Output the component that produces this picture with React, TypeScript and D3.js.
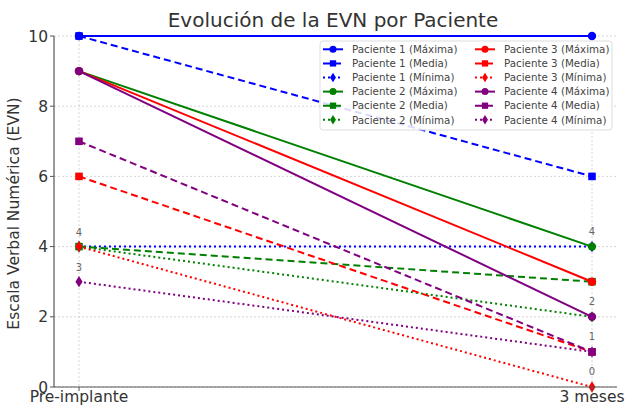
import React from "react";
import * as d3 from "d3";

const timepoints = ["Pre-implante", "3 meses"];
const patients = ["Paciente 1", "Paciente 2", "Paciente 3", "Paciente 4"];
const colors = ["#0000ff", "#008000", "#ff0000", "#800080"];
const measures = ["Máxima", "Media", "Mínima"];
const dashes = ["", "7,4", "2,3"];
const markers = ["circle", "square", "diamond"];

const maxValues = [[10, 10], [9, 4], [9, 3], [9, 2]];
const meanValues = [[10, 6], [4, 3], [6, 1], [7, 1]];
const minValues = [[4, 4], [4, 2], [4, 0], [3, 1]];

const annLeft = [4, 3];
const annRight = [4, 2, 1, 0];
const yTicks = [0, 2, 4, 6, 8, 10];

const W = 633, H = 405;
const M = { left: 54, right: 617, top: 36, bottom: 387 };

function Marker({ type, x, y, color, s = 4.2 }: any) {
  if (type === "circle") return <circle cx={x} cy={y} r={s} fill={color} />;
  if (type === "square") return <rect x={x - s * 0.9} y={y - s * 0.9} width={s * 1.8} height={s * 1.8} fill={color} />;
  return <path d={`M${x},${y - s * 1.35}L${x + s * 0.85},${y}L${x},${y + s * 1.35}L${x - s * 0.85},${y}Z`} fill={color} />;
}

export default function App() {
  const x = d3.scalePoint<string>().domain(timepoints).range([79, 592]);
  const y = d3.scaleLinear().domain([0, 10]).range([M.bottom, M.top]);
  const line = d3.line<number>().x((_, i) => x(timepoints[i])!).y((d) => y(d));
  const seriesSets = [maxValues, meanValues, minValues];
  const series: any[] = [];
  patients.forEach((p, pi) => {
    measures.forEach((m, mi) => {
      series.push({ label: `${p} (${m})`, values: seriesSets[mi][pi], color: colors[pi], dash: dashes[mi], marker: markers[mi] });
    });
  });
  const font = "DejaVu Sans, sans-serif";
  const legX = [323, 475], legY0 = 49.3, legDy = 14.1;
  return (
    <svg width={W} height={H} style={{ position: "absolute", left: 0, top: 0 }} fontFamily={font}>
      <rect width={W} height={H} fill="#fff" />
      <text x={333} y={27} textAnchor="middle" fontSize={20} fill="#333">Evolución de la EVN por Paciente</text>
      {yTicks.map((t) => (
        <line key={"gy" + t} x1={M.left} x2={M.right} y1={y(t)} y2={y(t)} stroke="#ccc" strokeWidth={0.8} strokeDasharray="2,2" />
      ))}
      {timepoints.map((t) => (
        <line key={"gx" + t} x1={x(t)} x2={x(t)} y1={M.top} y2={M.bottom} stroke="#ccc" strokeWidth={0.8} strokeDasharray="2,2" />
      ))}
      {series.map((s, i) => (
        <g key={i}>
          <path d={line(s.values)!} fill="none" stroke={s.color} strokeWidth={2} strokeDasharray={s.dash} />
          {s.values.map((v: number, j: number) => (
            <Marker key={j} type={s.marker} x={x(timepoints[j])} y={y(v)} color={s.color} />
          ))}
        </g>
      ))}
      {annLeft.map((v, i) => (
        <text key={"al" + i} x={x(timepoints[0])} y={y(v) - 11} textAnchor="middle" fontSize={10} fill="#666">{v}</text>
      ))}
      {annRight.map((v, i) => (
        <text key={"ar" + i} x={x(timepoints[1])} y={y(v) - 12} textAnchor="middle" fontSize={10} fill="#666">{v}</text>
      ))}
      <line x1={M.left} x2={M.left} y1={M.top} y2={M.bottom} stroke="#555" strokeWidth={1.2} />
      <line x1={M.left} x2={M.right} y1={M.bottom} y2={M.bottom} stroke="#555" strokeWidth={1.2} />
      {yTicks.map((t) => (
        <g key={"yt" + t}>
          <line x1={M.left - 4} x2={M.left} y1={y(t)} y2={y(t)} stroke="#555" />
          <text x={M.left - 6} y={y(t) + 5.5} textAnchor="end" fontSize={15.5} fill="#333">{t}</text>
        </g>
      ))}
      {timepoints.map((t) => (
        <g key={"xt" + t}>
          <line x1={x(t)} x2={x(t)} y1={M.bottom} y2={M.bottom + 4} stroke="#555" />
          <text x={x(t)} y={M.bottom + 14.5} textAnchor="middle" fontSize={15.5} fill="#333">{t}</text>
        </g>
      ))}
      <text transform={`translate(19,${(M.top + M.bottom) / 2 + 2}) rotate(-90)`} textAnchor="middle" fontSize={15.5} fill="#333">Escala Verbal Numérica (EVN)</text>
      <rect x={320} y={41} width={292} height={89} rx={3} fill="#fff" fillOpacity={0.85} stroke="#ddd" />
      {series.map((s, i) => {
        const col = Math.floor(i / 6), row = i % 6;
        const lx = legX[col], ly = legY0 + row * legDy;
        return (
          <g key={"lg" + i}>
            <line x1={lx} x2={lx + 20} y1={ly} y2={ly} stroke={s.color} strokeWidth={2} strokeDasharray={s.dash} />
            <Marker type={s.marker} x={lx + 10} y={ly} color={s.color} s={3.5} />
            <text x={lx + 29} y={ly + 3.7} fontSize={10.3} fill="#444">{s.label}</text>
          </g>
        );
      })}
    </svg>
  );
}
